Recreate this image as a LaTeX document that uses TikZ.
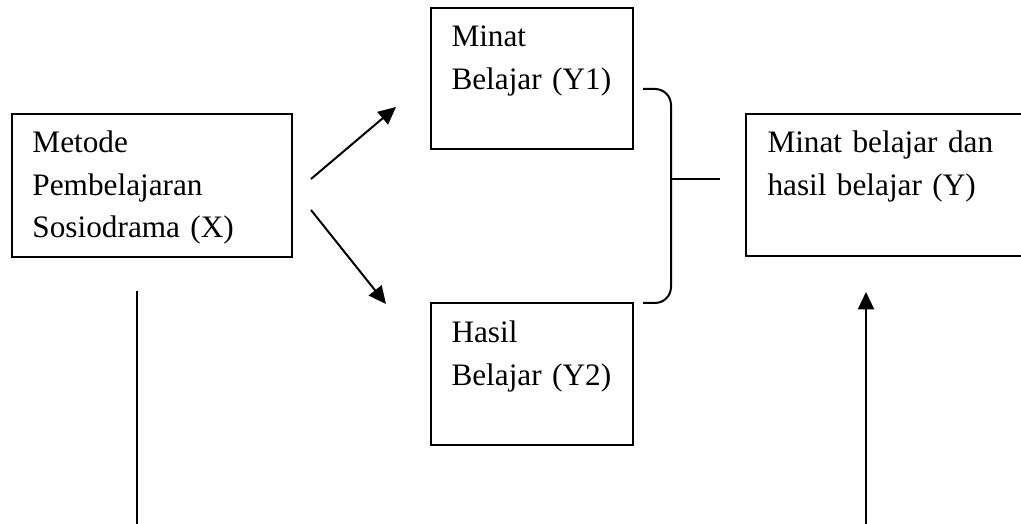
\documentclass[tikz,border=0pt]{standalone}
\usepackage{fontspec}
\setmainfont{Liberation Serif}
\usetikzlibrary{arrows.meta}
\tikzset{box/.style={rectangle, draw, line width=0.8pt, anchor=north west, inner sep=0pt}}
\tikzset{txt/.style={
   anchor=base west, inner sep=0pt,
   text width=4.5cm, align=left,
   font=\fontsize{12.5pt}{17pt}\selectfont
}}
\tikzset{line/.style={line width=0.8pt}}
\tikzset{link/.style={line, -{Triangle[length=7pt,width=6.5pt]}}}

\begin{document}
\begin{tikzpicture}[x=0.4pt, y=-0.4pt]

    \clip (0,0) rectangle (1021,524);

    \node[box, minimum width=112pt,  minimum height=57.2pt] (x)  at (11,113)  {};
    \node[box, minimum width=80.8pt, minimum height=56.4pt] (y1) at (430,7)   {};
    \node[box, minimum width=80.8pt, minimum height=56.8pt] (y2) at (430,302) {};
    \node[box, minimum width=118pt,  minimum height=56.8pt] (y)  at (745,113) {};

    \node[txt] (xt)  at (32,153)  {Metode\\Pembelajaran\\Sosiodrama (X)};
    \node[txt] (y1t) at (451,47)  {Minat\\Belajar (Y1)};
    \node[txt] (y2t) at (451,343) {Hasil\\Belajar (Y2)};
    \node[txt] (yt)  at (767,153) {Minat belajar dan\\hasil belajar (Y)};

    \coordinate (a1) at (311,179);
    \coordinate (b1) at (396,107);
    \coordinate (a2) at (311,210);
    \coordinate (b2) at (386,304);
    \draw[link] (a1) -- (b1);
    \draw[link] (a2) -- (b2);

    % kurung penggabung Y1 dan Y2
    \coordinate (k-top) at (643,89);
    \coordinate (k-bot) at (643,303);
    \coordinate (k-mid) at (671,179);
    \coordinate (k-out) at (720,179);
    \draw[line, rounded corners=6.4pt] (k-top) -| (k-mid) |- (k-bot);
    \draw[line] (k-mid) -- (k-out);

    \coordinate (l-top) at (137,291);
    \coordinate (l-bot) at (137,530);
    \draw[line] (l-top) -- (l-bot);

    \coordinate (r-bot) at (866,530);
    \coordinate (r-top) at (866,292);
    \draw[link] (r-bot) -- (r-top);

\end{tikzpicture}
\end{document}
